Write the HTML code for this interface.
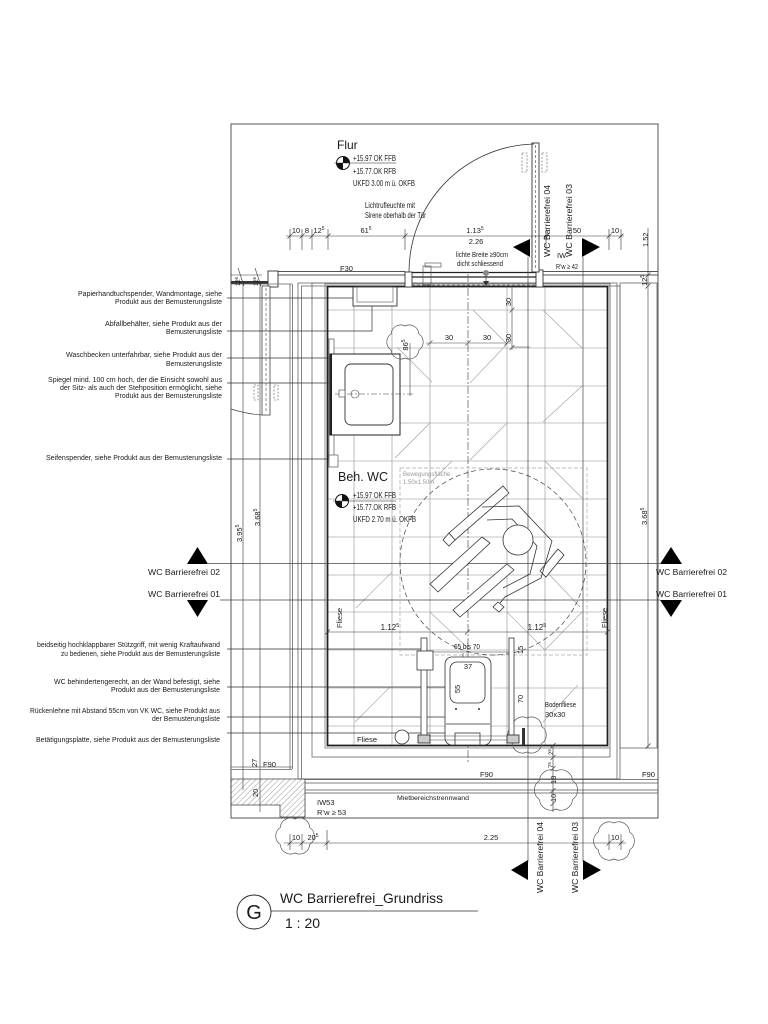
<!DOCTYPE html>
<html><head><meta charset="utf-8">
<style>
html,body{margin:0;padding:0;background:#fff;}
svg{display:block;}
text{font-family:"Liberation Sans",sans-serif;fill:#1a1a1a;}
</style></head><body>
<svg width="768" height="1024" viewBox="0 0 768 1024" xmlns="http://www.w3.org/2000/svg">
<defs>
<pattern id="h" width="4" height="4" patternUnits="userSpaceOnUse" patternTransform="rotate(45)"><line x1="0" y1="0" x2="0" y2="4" stroke="#555" stroke-width="0.6"/></pattern>
</defs>
<rect width="768" height="1024" fill="#fff"/>

<!-- tile grid -->
<g stroke="#8e8e8e" stroke-width="0.6" fill="none">
<line x1="354" y1="286" x2="354" y2="746"/><line x1="392" y1="286" x2="392" y2="746"/>
<line x1="430" y1="286" x2="430" y2="746"/><line x1="507" y1="286" x2="507" y2="746"/>
<line x1="545" y1="286" x2="545" y2="746"/>
<line x1="328" y1="310" x2="607" y2="310"/><line x1="328" y1="348" x2="607" y2="348"/>
<line x1="328" y1="386" x2="607" y2="386"/><line x1="328" y1="423" x2="607" y2="423"/>
<line x1="328" y1="461" x2="607" y2="461"/><line x1="328" y1="499" x2="607" y2="499"/>
<line x1="328" y1="537" x2="607" y2="537"/><line x1="328" y1="575" x2="607" y2="575"/>
<line x1="328" y1="612" x2="607" y2="612"/><line x1="328" y1="650" x2="607" y2="650"/>
<line x1="328" y1="688" x2="607" y2="688"/><line x1="328" y1="726" x2="607" y2="726"/>
</g>
<g stroke="#a0a0a0" stroke-width="0.6">
<line x1="473" y1="310" x2="507" y2="344"/><line x1="507" y1="344" x2="470" y2="383"/>
<line x1="543" y1="310" x2="582" y2="348"/><line x1="582" y1="386" x2="543" y2="422"/>
<line x1="430" y1="423" x2="395" y2="458"/><line x1="397" y1="347" x2="432" y2="382"/>
<line x1="507" y1="423" x2="470" y2="460"/><line x1="430" y1="483" x2="452" y2="461"/>
<line x1="392" y1="572" x2="356" y2="608"/><line x1="547" y1="572" x2="580" y2="607"/>
<line x1="390" y1="687" x2="355" y2="722"/><line x1="578" y1="685" x2="543" y2="722"/>
<line x1="545" y1="461" x2="582" y2="498"/><line x1="430" y1="612" x2="470" y2="650"/>
<line x1="507" y1="612" x2="545" y2="650"/><line x1="582" y1="612" x2="545" y2="650"/>
</g>

<!-- frame -->
<rect x="231" y="124" width="427" height="694" fill="none" stroke="#555" stroke-width="1"/>

<!-- top wall F30 -->
<g stroke="#555" stroke-width="0.9">
<line x1="277" y1="271.5" x2="405" y2="271.5"/><line x1="277" y1="275" x2="405" y2="275"/>
<line x1="543" y1="271.5" x2="658" y2="271.5"/><line x1="543" y1="275" x2="658" y2="275"/>
</g>
<rect x="231" y="281" width="37" height="3" fill="#333"/>
<rect x="268" y="271" width="10" height="16" fill="#fff" stroke="#333" stroke-width="0.9"/>

<!-- room outlines -->
<g fill="none" stroke="#666" stroke-width="0.8">
<line x1="231" y1="284" x2="292" y2="284"/>
<line x1="290" y1="284" x2="290" y2="769"/><line x1="292.5" y1="284" x2="292.5" y2="769"/>
<line x1="231" y1="767" x2="292" y2="767"/><line x1="231" y1="769.5" x2="292" y2="769.5"/>
<rect x="298" y="283" width="319" height="496"/>
<rect x="301.5" y="286" width="318.5" height="493"/>
<rect x="312" y="283" width="298" height="474"/>
<rect x="620" y="283" width="37" height="465"/>
<line x1="243" y1="284" x2="243" y2="790"/><line x1="260" y1="284" x2="260" y2="812"/>
</g>
<rect x="325" y="284" width="285" height="464" fill="none" stroke="#777" stroke-width="0.8"/>
<rect x="327.5" y="286.5" width="280" height="459" fill="none" stroke="#222" stroke-width="1.8"/>

<!-- bottom wall -->
<g stroke="#555" stroke-width="0.8">
<line x1="305" y1="779.5" x2="658" y2="779.5"/><line x1="305" y1="783" x2="658" y2="783"/>
<line x1="305" y1="790" x2="658" y2="790"/><line x1="305" y1="793" x2="658" y2="793"/>
</g>
<polygon points="231,779 305,779 305,817 280,817 280,805 231,805" fill="url(#h)" stroke="#444" stroke-width="0.8"/>

<!-- closet door left -->
<rect x="262" y="286" width="8" height="129" fill="#fff" stroke="#444" stroke-width="0.8"/>
<line x1="266" y1="288" x2="266" y2="413" stroke="#444" stroke-width="0.6" stroke-dasharray="3,2"/>
<path d="M262,415 A131,131 0 0 1 231,409" fill="none" stroke="#444" stroke-width="0.7"/>
<g fill="none" stroke="#555" stroke-width="0.6" stroke-dasharray="2,1.5">
<rect x="254" y="385" width="4" height="15"/><rect x="274" y="385" width="4" height="15"/>
</g>

<!-- main door -->
<rect x="405" y="272" width="7" height="15" fill="#fff" stroke="#333" stroke-width="0.9"/>
<rect x="536" y="270" width="7" height="17" fill="#fff" stroke="#333" stroke-width="0.9"/>
<line x1="412" y1="272.5" x2="536" y2="272.5" stroke="#222" stroke-width="1.2"/>
<line x1="412" y1="277" x2="536" y2="277" stroke="#222" stroke-width="1.2"/>
<line x1="412" y1="285" x2="536" y2="285" stroke="#555" stroke-width="0.6" stroke-dasharray="3,2"/>
<circle cx="486" cy="273" r="3" fill="#888"/>
<line x1="486" y1="276" x2="486" y2="283" stroke="#333" stroke-width="0.7"/>
<polygon points="483,281 489,281 486,286" fill="#333"/>
<rect x="425" y="263" width="16" height="4" fill="#fff" stroke="#444" stroke-width="0.6"/>
<rect x="423" y="266" width="8" height="19" fill="none" stroke="#444" stroke-width="0.6"/>
<rect x="532" y="143" width="7" height="129" fill="#fff" stroke="#333" stroke-width="0.9"/>
<line x1="535.5" y1="145" x2="535.5" y2="270" stroke="#444" stroke-width="0.6" stroke-dasharray="3,2"/>
<path d="M409,272 A128,128 0 0 1 534,144" fill="none" stroke="#333" stroke-width="0.8"/>
<g fill="none" stroke="#555" stroke-width="0.6" stroke-dasharray="2,1.5">
<rect x="522" y="153" width="5" height="19"/><rect x="542" y="153" width="5" height="19"/>
</g>

<!-- section lines -->
<g stroke="#444" stroke-width="0.7">
<line x1="528" y1="257" x2="528" y2="862"/><line x1="583" y1="257" x2="583" y2="862"/>
<line x1="208" y1="563.5" x2="660" y2="563.5"/><line x1="220" y1="600" x2="660" y2="600"/>
</g>
<!-- center dash-dot -->
<line x1="468" y1="274" x2="468" y2="764" stroke="#555" stroke-width="0.7" stroke-dasharray="8,2,2,2"/>

<!-- leaders -->
<g stroke="#333" stroke-width="0.7" fill="none">
<line x1="227" y1="298" x2="353" y2="298"/>
<polyline points="227,331 372,331 372,306"/>
<line x1="227" y1="358" x2="360" y2="358"/>
<line x1="227" y1="383" x2="329" y2="383"/>
<line x1="227" y1="459" x2="330" y2="459"/>
<line x1="227" y1="649" x2="421" y2="649"/>
<line x1="227" y1="687" x2="475" y2="687"/>
<line x1="227" y1="717" x2="466" y2="717"/>
<line x1="227" y1="733" x2="456" y2="733"/>
</g>

<!-- paper dispenser -->
<rect x="353" y="287" width="44" height="19" fill="#fff" stroke="#333" stroke-width="0.9"/>
<rect x="357" y="287" width="36" height="15" fill="none" stroke="#555" stroke-width="0.6"/>

<!-- washbasin -->
<rect x="329" y="339" width="5" height="118" fill="#fff" stroke="#555" stroke-width="0.7"/>
<rect x="329" y="455" width="9" height="12" fill="#fff" stroke="#555" stroke-width="0.7"/>
<rect x="330" y="354" width="70" height="81" fill="#fff" stroke="#222" stroke-width="1"/>
<line x1="331" y1="354" x2="331" y2="435" stroke="#222" stroke-width="2"/>
<rect x="345" y="364" width="48" height="61" rx="6" fill="none" stroke="#333" stroke-width="0.9"/>
<line x1="335" y1="394" x2="415" y2="394" stroke="#444" stroke-width="0.6" stroke-dasharray="6,2,2,2"/>
<rect x="339" y="390" width="6" height="7" fill="#fff" stroke="#444" stroke-width="0.6"/>
<circle cx="355" cy="394" r="4" fill="none" stroke="#444" stroke-width="0.6"/>
<line x1="410" y1="343" x2="410" y2="396" stroke="#444" stroke-width="0.6"/>

<!-- dims inside room -->
<g stroke="#444" stroke-width="0.6">
<line x1="426" y1="343" x2="511" y2="343"/>
<line x1="427.5" y1="345.5" x2="432.5" y2="340.5"/><line x1="465.5" y1="345.5" x2="470.5" y2="340.5"/><line x1="504.5" y1="345.5" x2="509.5" y2="340.5"/>
<line x1="512" y1="286" x2="512" y2="350"/>
<line x1="509.5" y1="312.5" x2="514.5" y2="307.5"/><line x1="509.5" y1="350" x2="514.5" y2="345"/>
<line x1="512" y1="347" x2="530" y2="347"/>
</g>
<g font-size="7.5">
<text x="449" y="340" text-anchor="middle">30</text>
<text x="487" y="340" text-anchor="middle">30</text>
<text transform="translate(511,302) rotate(-90)" text-anchor="middle">30</text>
<text transform="translate(511,338) rotate(-90)" text-anchor="middle">30</text>
<text transform="translate(408,345) rotate(-90)" text-anchor="middle">86<tspan font-size="5" dy="-3">5</tspan></text>
</g>

<!-- clouds -->
<g fill="none" stroke="#555" stroke-width="0.7">
<path d="M405,326 A9.6,9.6 0 0 1 418.9,334 A9.6,9.6 0 0 1 418.9,350 A9.6,9.6 0 0 1 405,358 A9.6,9.6 0 0 1 391.1,350 A9.6,9.6 0 0 1 391.1,334 A9.6,9.6 0 0 1 405,326 Z"/>
<path d="M527,718 A10.2,10.2 0 0 1 541.7,726.5 A10.2,10.2 0 0 1 541.7,743.5 A10.2,10.2 0 0 1 527,752 A10.2,10.2 0 0 1 512.3,743.5 A10.2,10.2 0 0 1 512.3,726.5 A10.2,10.2 0 0 1 527,718 Z"/>
<path d="M556,771 A11.4,11.4 0 0 1 572.5,780.5 A11.4,11.4 0 0 1 572.5,799.5 A11.4,11.4 0 0 1 556,809 A11.4,11.4 0 0 1 539.5,799.5 A11.4,11.4 0 0 1 539.5,780.5 A11.4,11.4 0 0 1 556,771 Z"/>
<path d="M295,819 A10.2,10.2 0 0 1 309.7,827.5 A10.2,10.2 0 0 1 309.7,844.5 A10.2,10.2 0 0 1 295,853 A10.2,10.2 0 0 1 280.3,844.5 A10.2,10.2 0 0 1 280.3,827.5 A10.2,10.2 0 0 1 295,819 Z"/>
<path d="M614,823 A10.8,10.8 0 0 1 629.6,832 A10.8,10.8 0 0 1 629.6,850 A10.8,10.8 0 0 1 614,859 A10.8,10.8 0 0 1 598.4,850 A10.8,10.8 0 0 1 598.4,832 A10.8,10.8 0 0 1 614,823 Z"/>
</g>

<!-- Bewegungsflaeche -->
<rect x="400" y="468" width="187" height="187" fill="none" stroke="#aaa" stroke-width="0.7" stroke-dasharray="4,2"/>
<circle cx="493" cy="562" r="93" fill="none" stroke="#444" stroke-width="0.7" stroke-dasharray="5,3"/>
<text x="403" y="476" font-size="6" style="fill:#999">Bewegungsfläche</text>
<text x="403" y="484" font-size="6" style="fill:#999">1.50x1.50m</text>

<!-- wheelchair -->
<g fill="#fff" stroke="#333" stroke-width="0.8">
<polygon points="503,486 509,493 455,540 449,533"/>
<polygon points="449,533 455,540 449,546 443,540"/>
<polygon points="482,537 490,543 438,592 430,584"/>
<polygon points="507,564 514,570 460,617 453,610"/>
<polygon points="498,602 504,607 499,612 493,607"/>
<polygon points="558,549 564,555 546,577 540,571"/>
<polyline fill="none" points="482,507 519,506 552,541 541,578 505,597 500,603"/>
<polyline fill="none" points="487,520 512,519 537,546 530,574 503,588"/>
<circle cx="518" cy="540" r="15"/>
</g>

<!-- WC area -->
<g stroke="#333" stroke-width="0.6">
<line x1="327" y1="632" x2="607" y2="632"/>
<line x1="325" y1="634.5" x2="330" y2="629.5"/><line x1="465" y1="634.5" x2="470" y2="629.5"/><line x1="605" y1="634.5" x2="610" y2="629.5"/>
<line x1="422" y1="652" x2="513" y2="652"/>
<line x1="463" y1="653" x2="463" y2="730"/>
</g>
<g font-size="8">
<text x="390" y="630" text-anchor="middle">1.12<tspan font-size="5.5" dy="-3">5</tspan></text>
<text x="537" y="630" text-anchor="middle">1.12<tspan font-size="5.5" dy="-3">5</tspan></text>
</g>
<g fill="#fff" stroke="#333" stroke-width="0.8">
<rect x="421" y="638" width="6" height="98"/>
<rect x="417" y="651" width="16" height="19"/>
<rect x="509" y="638" width="5" height="98"/>
<rect x="445" y="657" width="46" height="88" rx="7"/>
<rect x="450" y="662" width="35" height="41" rx="7"/>
<line x1="446" y1="724" x2="490" y2="724"/>
<rect x="455" y="733" width="25" height="12"/>
<circle cx="402" cy="737" r="7"/>
</g>
<circle cx="456" cy="709" r="1" fill="#333"/><circle cx="479" cy="709" r="1" fill="#333"/>
<rect x="418" y="735" width="12" height="8" fill="#ccc" stroke="#222" stroke-width="0.8"/>
<rect x="507" y="735" width="12" height="8" fill="#ccc" stroke="#222" stroke-width="0.8"/>
<line x1="430" y1="736" x2="507" y2="736" stroke="#444" stroke-width="0.6"/>
<line x1="430" y1="740" x2="507" y2="740" stroke="#444" stroke-width="0.6"/>
<rect x="522" y="728" width="3" height="17" fill="#333"/>
<g font-size="7.5">
<text x="467" y="649" text-anchor="middle" textLength="26" lengthAdjust="spacingAndGlyphs">65 bis 70</text>
<text x="468" y="669" text-anchor="middle">37</text>
<text transform="translate(460,689) rotate(-90)" text-anchor="middle">55</text>
<text transform="translate(523,699) rotate(-90)" text-anchor="middle">70</text>
<text transform="translate(523,650) rotate(-90)" text-anchor="middle">15</text>
<text x="545" y="707" textLength="31" lengthAdjust="spacingAndGlyphs">Bodenfliese</text>
<text x="545" y="717">30x30</text>
<text x="357" y="742">Fliese</text>
<text transform="translate(342,628) rotate(-90)">Fliese</text>
<text transform="translate(607,628) rotate(-90)">Fliese</text>
<text transform="translate(553,755) rotate(-90)" font-size="6">2<tspan font-size="4.5" dy="-2">5</tspan></text>
<text transform="translate(553,768) rotate(-90)" font-size="6">7<tspan font-size="4.5" dy="-2">5</tspan></text>
<text transform="translate(556,784) rotate(-90)">18</text>
<text transform="translate(556,802) rotate(-90)">10</text>
<text x="480" y="777">F90</text>
<text x="642" y="777">F90</text>
<text x="263" y="767">F90</text>
<text transform="translate(257,767) rotate(-90)">27</text>
<text transform="translate(258,797) rotate(-90)">20</text>
<text x="397" y="800" font-size="6.5" textLength="72" lengthAdjust="spacingAndGlyphs">Mietbereichstrennwand</text>
<text x="317" y="805">IW53</text>
<text x="317" y="815">R’w ≥ 53</text>
</g>
<g stroke="#333" stroke-width="0.6">
<line x1="553" y1="745" x2="553" y2="812"/>
<line x1="550.5" y1="748" x2="555.5" y2="743"/><line x1="550.5" y1="760" x2="555.5" y2="755"/><line x1="550.5" y1="771" x2="555.5" y2="766"/><line x1="550.5" y1="793" x2="555.5" y2="788"/><line x1="550.5" y1="806" x2="555.5" y2="801"/>
</g>

<!-- top dimension chain -->
<g stroke="#333" stroke-width="0.6">
<line x1="286" y1="236" x2="624" y2="236"/>
<line x1="290" y1="229" x2="290" y2="250"/><line x1="302" y1="229" x2="302" y2="250"/>
<line x1="312" y1="229" x2="312" y2="250"/><line x1="328" y1="229" x2="328" y2="250"/>
<line x1="405" y1="229" x2="405" y2="250"/><line x1="546" y1="229" x2="546" y2="250"/>
<line x1="609" y1="229" x2="609" y2="250"/><line x1="621" y1="229" x2="621" y2="250"/>
<line x1="287.5" y1="238.5" x2="292.5" y2="233.5"/><line x1="299.5" y1="238.5" x2="304.5" y2="233.5"/>
<line x1="309.5" y1="238.5" x2="314.5" y2="233.5"/><line x1="325.5" y1="238.5" x2="330.5" y2="233.5"/>
<line x1="402.5" y1="238.5" x2="407.5" y2="233.5"/><line x1="543.5" y1="238.5" x2="548.5" y2="233.5"/>
<line x1="606.5" y1="238.5" x2="611.5" y2="233.5"/><line x1="618.5" y1="238.5" x2="623.5" y2="233.5"/>
<line x1="648" y1="228" x2="648" y2="748"/>
<line x1="645.5" y1="277.5" x2="650.5" y2="272.5"/><line x1="645.5" y1="288.5" x2="650.5" y2="283.5"/>
<line x1="645.5" y1="748.5" x2="650.5" y2="743.5"/>
<line x1="231" y1="275" x2="262" y2="275"/>
<line x1="238" y1="268" x2="244" y2="286"/><line x1="255" y1="268" x2="261" y2="286"/>
</g>
<g font-size="7.5">
<text x="296" y="233" text-anchor="middle">10</text>
<text x="307" y="233" text-anchor="middle">8</text>
<text x="319" y="233" text-anchor="middle">12<tspan font-size="5" dy="-3">5</tspan></text>
<text x="366" y="233" text-anchor="middle">61<tspan font-size="5" dy="-3">5</tspan></text>
<text x="475" y="233" text-anchor="middle">1.13<tspan font-size="5" dy="-3">5</tspan></text>
<text x="577" y="233" text-anchor="middle">50</text>
<text x="615" y="233" text-anchor="middle">10</text>
<text x="476" y="244" text-anchor="middle">2.26</text>
<text x="456" y="257" textLength="52" lengthAdjust="spacingAndGlyphs">lichte Breite ≥90cm</text>
<text x="457" y="266" textLength="46" lengthAdjust="spacingAndGlyphs">dicht schliessend</text>
<text x="340" y="271">F30</text>
<text x="557" y="258">IW</text>
<text x="556" y="269" textLength="22" lengthAdjust="spacingAndGlyphs">R’w ≥ 42</text>
<text transform="translate(648,247) rotate(-90)">1.52</text>
<text transform="translate(647,286) rotate(-90)">12<tspan font-size="5" dy="-3">5</tspan></text>
<text transform="translate(647,525) rotate(-90)">3.68<tspan font-size="5" dy="-3">5</tspan></text>
<text transform="translate(242,542) rotate(-90)">3.95<tspan font-size="5" dy="-3">5</tspan></text>
<text transform="translate(260,526) rotate(-90)">3.68<tspan font-size="5" dy="-3">5</tspan></text>
<text transform="translate(240,286) rotate(-90)" font-size="6">12<tspan font-size="4.5" dy="-2">5</tspan></text>
<text transform="translate(258,286) rotate(-90)" font-size="6">12<tspan font-size="4.5" dy="-2">5</tspan></text>
</g>

<!-- Flur -->
<text x="337" y="149" font-size="12">Flur</text>
<g>
<circle cx="343" cy="163" r="6.5" fill="#fff" stroke="#111" stroke-width="1"/>
<path d="M343,163 L343,156.5 A6.5,6.5 0 0 1 349.5,163 Z" fill="#111"/>
<path d="M343,163 L343,169.5 A6.5,6.5 0 0 1 336.5,163 Z" fill="#111"/>
<line x1="334" y1="163" x2="396" y2="163" stroke="#222" stroke-width="0.6"/>
</g>
<g font-size="8.5">
<text x="353" y="161" textLength="43" lengthAdjust="spacingAndGlyphs">+15.97 OK FFB</text>
<text x="353" y="174" textLength="43" lengthAdjust="spacingAndGlyphs">+15.77.OK RFB</text>
<text x="353" y="186" textLength="62" lengthAdjust="spacingAndGlyphs">UKFD 3.00 m ü. OKFB</text>
</g>
<g font-size="8">
<text x="365" y="208" textLength="50" lengthAdjust="spacingAndGlyphs">Lichtrufleuchte mit</text>
<text x="365" y="218" textLength="61" lengthAdjust="spacingAndGlyphs">Sirene oberhalb der Tür</text>
</g>

<!-- Beh. WC -->
<text x="338" y="481" font-size="12.5">Beh. WC</text>
<g>
<circle cx="342" cy="501" r="6.5" fill="#fff" stroke="#111" stroke-width="1"/>
<path d="M342,501 L342,494.5 A6.5,6.5 0 0 1 348.5,501 Z" fill="#111"/>
<path d="M342,501 L342,507.5 A6.5,6.5 0 0 1 335.5,501 Z" fill="#111"/>
<line x1="333" y1="501" x2="396" y2="501" stroke="#222" stroke-width="0.6"/>
</g>
<g font-size="8.5">
<text x="353" y="498" textLength="43" lengthAdjust="spacingAndGlyphs">+15.97 OK FFB</text>
<text x="353" y="510" textLength="43" lengthAdjust="spacingAndGlyphs">+15.77.OK RFB</text>
<text x="353" y="522" textLength="63" lengthAdjust="spacingAndGlyphs">UKFD 2.70 m ü. OKFB</text>
</g>

<!-- section triangles -->
<g fill="#000">
<polygon points="513,247 530,239 530,257"/>
<polygon points="582,238 600,247 582,257"/>
<polygon points="511,870 528,860 528,880"/>
<polygon points="583,860 601,870 583,880"/>
<polygon points="187,564 208,564 197.5,547"/>
<polygon points="187,600 208,600 197.5,617"/>
<polygon points="660,564 682,564 671,547"/>
<polygon points="660,600 682,600 671,617"/>
</g>
<g font-size="8.7">
<text transform="translate(550,257) rotate(-90)" textLength="72" lengthAdjust="spacingAndGlyphs">WC Barrierefrei 04</text>
<text transform="translate(572,257) rotate(-90)" textLength="73" lengthAdjust="spacingAndGlyphs">WC Barrierefrei 03</text>
<text transform="translate(543,893) rotate(-90)" textLength="71" lengthAdjust="spacingAndGlyphs">WC Barrierefrei 04</text>
<text transform="translate(578,893) rotate(-90)" textLength="71" lengthAdjust="spacingAndGlyphs">WC Barrierefrei 03</text>
<text x="148" y="575" textLength="72" lengthAdjust="spacingAndGlyphs">WC Barrierefrei 02</text>
<text x="148" y="597" textLength="72" lengthAdjust="spacingAndGlyphs">WC Barrierefrei 01</text>
<text x="656" y="575" textLength="71" lengthAdjust="spacingAndGlyphs">WC Barrierefrei 02</text>
<text x="656" y="597" textLength="71" lengthAdjust="spacingAndGlyphs">WC Barrierefrei 01</text>
</g>

<!-- left labels -->
<g font-size="7" text-anchor="end">
<text x="222" y="296" textLength="144" lengthAdjust="spacingAndGlyphs">Papierhandtuchspender, Wandmontage, siehe</text>
<text x="222" y="304" textLength="107" lengthAdjust="spacingAndGlyphs">Produkt aus der Bemusterungsliste</text>
<text x="222" y="326" textLength="117" lengthAdjust="spacingAndGlyphs">Abfallbehälter, siehe Produkt aus der</text>
<text x="222" y="334" textLength="56" lengthAdjust="spacingAndGlyphs">Bemusterungsliste</text>
<text x="222" y="357" textLength="156" lengthAdjust="spacingAndGlyphs">Waschbecken unterfahrbar, siehe Produkt aus der</text>
<text x="222" y="366" textLength="56" lengthAdjust="spacingAndGlyphs">Bemusterungsliste</text>
<text x="222" y="382" textLength="174" lengthAdjust="spacingAndGlyphs">Spiegel mind. 100 cm hoch, der die Einsicht sowohl aus</text>
<text x="222" y="390" textLength="162" lengthAdjust="spacingAndGlyphs">der Sitz- als auch der Stehposition ermöglicht, siehe</text>
<text x="222" y="398" textLength="107" lengthAdjust="spacingAndGlyphs">Produkt aus der Bemusterungsliste</text>
<text x="222" y="460" textLength="176" lengthAdjust="spacingAndGlyphs">Seifenspender, siehe Produkt aus der Bemusterungsliste</text>
<text x="220" y="647" textLength="183" lengthAdjust="spacingAndGlyphs">beidseitig hochklappbarer Stützgriff, mit wenig Kraftaufwand</text>
<text x="220" y="656" textLength="159" lengthAdjust="spacingAndGlyphs">zu bedienen, siehe Produkt aus der Bemusterungsliste</text>
<text x="220" y="684" textLength="166" lengthAdjust="spacingAndGlyphs">WC behindertengerecht, an der Wand befestigt, siehe</text>
<text x="220" y="692" textLength="109" lengthAdjust="spacingAndGlyphs">Produkt aus der Bemusterungsliste</text>
<text x="220" y="713" textLength="190" lengthAdjust="spacingAndGlyphs">Rückenlehne mit Abstand 55cm von VK WC, siehe Produkt aus</text>
<text x="220" y="721" textLength="68" lengthAdjust="spacingAndGlyphs">der Bemusterungsliste</text>
<text x="220" y="742" textLength="184" lengthAdjust="spacingAndGlyphs">Betätigungsplatte, siehe Produkt aus der Bemusterungsliste</text>
</g>

<!-- bottom dimension -->
<g stroke="#333" stroke-width="0.6">
<line x1="284" y1="843" x2="626" y2="843"/>
<line x1="290" y1="834" x2="290" y2="850"/><line x1="302" y1="834" x2="302" y2="850"/>
<line x1="327" y1="830" x2="327" y2="850"/><line x1="609" y1="834" x2="609" y2="850"/>
<line x1="621" y1="834" x2="621" y2="850"/>
<line x1="287.5" y1="845.5" x2="292.5" y2="840.5"/><line x1="299.5" y1="845.5" x2="304.5" y2="840.5"/>
<line x1="324.5" y1="845.5" x2="329.5" y2="840.5"/><line x1="606.5" y1="845.5" x2="611.5" y2="840.5"/>
<line x1="618.5" y1="845.5" x2="623.5" y2="840.5"/>
</g>
<g font-size="7.5">
<text x="296" y="840" text-anchor="middle">10</text>
<text x="313" y="840" text-anchor="middle">20<tspan font-size="5" dy="-3">5</tspan></text>
<text x="491" y="840" text-anchor="middle">2.25</text>
<text x="615" y="840" text-anchor="middle">10</text>
</g>

<!-- title -->
<circle cx="254" cy="912" r="17" fill="#fff" stroke="#222" stroke-width="0.9"/>
<text x="254" y="919" font-size="20" text-anchor="middle">G</text>
<text x="280" y="903" font-size="14" textLength="163" lengthAdjust="spacingAndGlyphs">WC Barrierefrei_Grundriss</text>
<line x1="271" y1="911" x2="478" y2="911" stroke="#333" stroke-width="0.8"/>
<text x="285" y="928" font-size="14">1 : 20</text>
</svg>
</body></html>
